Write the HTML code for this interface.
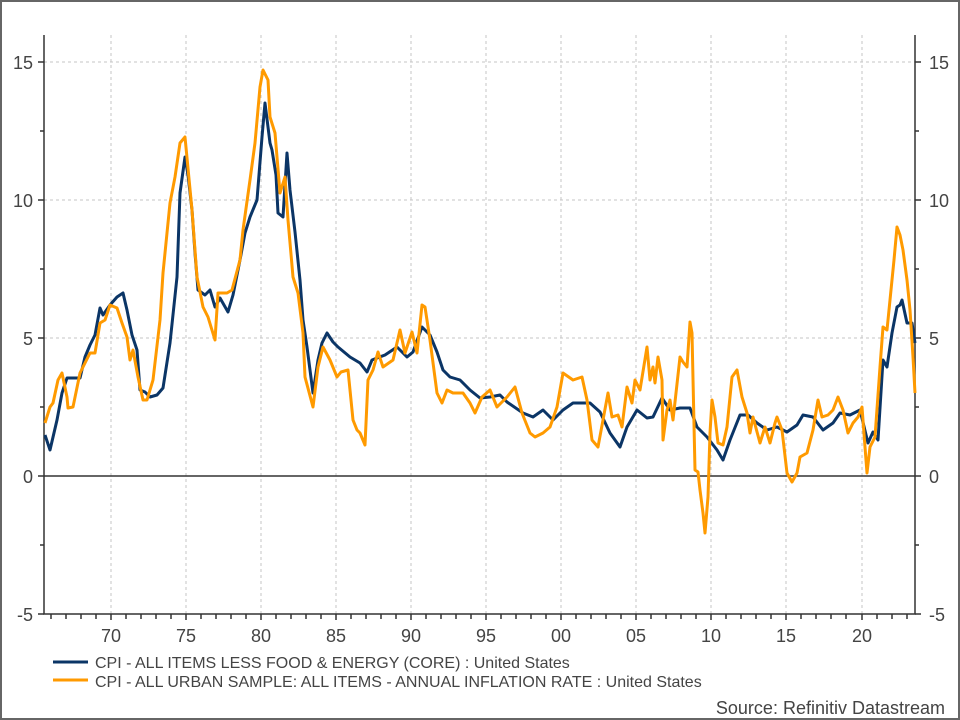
<!DOCTYPE html>
<html><head><meta charset="utf-8"><style>
html,body{margin:0;padding:0;background:#fff;}
svg{display:block;}
text{font-family:"Liberation Sans",Arial,sans-serif;}
</style></head><body>
<svg width="960" height="720" viewBox="0 0 960 720" xmlns="http://www.w3.org/2000/svg">
<rect x="1" y="1" width="958" height="718" fill="#fff" stroke="#666" stroke-width="2"/>
<g stroke="#c4c4c4" stroke-width="1" stroke-dasharray="3,3" fill="none">
<path d="M111 35V614M186 35V614M261 35V614M336 35V614M411 35V614M486 35V614M561 35V614M636 35V614M711 35V614M786 35V614M862 35V614"/>
<path d="M44 62H915M44 200H915M44 338H915"/>
</g>
<g stroke="#333" stroke-width="1.5" fill="none">
<path d="M44 35V614H915V35"/>
<path d="M44 476H915"/>
<path d="M38 62H44M40 131H44M38 200H44M40 269H44M38 338H44M40 407H44M38 476H44M40 545H44M38 614H44"/>
<path d="M915 62H921M915 131H919M915 200H921M915 269H919M915 338H921M915 407H919M915 476H921M915 545H919M915 614H921"/>
<path d="M51 614v5M66 614v5M81 614v5M96 614v5M111 614v6M126 614v5M141 614v5M156 614v5M171 614v5M186 614v6M201 614v5M216 614v5M231 614v5M246 614v5M261 614v6M276 614v5M291 614v5M306 614v5M321 614v5M336 614v6M351 614v5M366 614v5M381 614v5M396 614v5M411 614v6M426 614v5M441 614v5M456 614v5M471 614v5M486 614v6M501 614v5M516 614v5M531 614v5M546 614v5M561 614v6M576 614v5M591 614v5M606 614v5M621 614v5M636 614v6M651 614v5M666 614v5M681 614v5M696 614v5M711 614v6M726 614v5M741 614v5M756 614v5M771 614v5M786 614v6M801 614v5M816 614v5M831 614v5M846 614v5M862 614v6M877 614v5M892 614v5M907 614v5"/>
</g>
<g font-size="18" fill="#444" text-anchor="end">
<text x="33" y="69">15</text><text x="33" y="207">10</text><text x="33" y="345">5</text><text x="33" y="483">0</text><text x="33" y="621">-5</text>
</g>
<g font-size="18" fill="#444" text-anchor="start">
<text x="929" y="69">15</text><text x="929" y="207">10</text><text x="929" y="345">5</text><text x="929" y="483">0</text><text x="929" y="621">-5</text>
</g>
<g font-size="18" fill="#444" text-anchor="middle">
<text x="111" y="642">70</text><text x="186" y="642">75</text><text x="261" y="642">80</text><text x="336" y="642">85</text><text x="411" y="642">90</text><text x="486" y="642">95</text><text x="561" y="642">00</text><text x="636" y="642">05</text><text x="711" y="642">10</text><text x="786" y="642">15</text><text x="862" y="642">20</text>
</g>
<polyline fill="none" stroke="#0b3566" stroke-width="3" stroke-linejoin="round" points="45,435 50,450 57,420 62,393 67,378 75,378 80,378 85,357 90,345 95,335 100,308 103,315 110,305 117,297 123,293 127,310 132,335 137,350 140,390 145,392 150,397 157,395 163,388 170,343 177,277 180,193 185,157 188,175 192,210 195,253 198,290 205,295 210,290 215,307 220,298 228,312 233,295 240,260 245,233 250,217 257,200 262,137 265,103 270,143 272,150 276,175 278,213 283,217 287,153 290,190 295,232 300,280 303,320 307,347 313,393 318,360 322,343 327,333 333,342 338,347 350,357 360,363 367,372 372,360 385,355 397,347 407,357 413,352 422,327 430,335 437,352 443,370 450,377 460,380 470,390 480,398 490,397 500,395 507,402 523,413 533,417 543,410 553,420 563,410 573,403 583,403 590,403 600,412 610,433 620,447 627,427 637,410 647,418 653,417 662,398 670,410 680,408 690,408 697,427 707,437 717,450 723,460 730,440 740,415 748,415 757,423 767,430 777,427 787,432 797,425 803,415 813,417 823,430 833,423 840,413 850,415 860,410 868,443 873,432 878,440 883,360 887,367 892,333 897,307 900,305 902,300 907,323 912,323 915,343"/>
<polyline fill="none" stroke="#ff9a00" stroke-width="3" stroke-linejoin="round" points="45,423 50,407 53,403 58,380 62,373 67,397 68,408 73,407 80,373 90,353 95,353 100,323 105,320 110,305 117,308 122,323 127,337 130,360 133,350 138,377 143,400 147,400 153,380 160,320 163,273 170,203 175,177 180,143 185,137 192,210 197,277 203,307 208,317 215,340 218,293 227,293 232,290 240,260 243,230 250,180 255,143 260,87 263,70 268,80 270,117 275,133 280,193 285,177 288,220 293,277 298,293 303,333 305,377 313,407 318,367 323,347 330,360 337,377 341,372 348,370 353,420 357,430 360,433 365,445 368,380 373,370 378,352 383,367 393,360 400,330 405,353 412,332 417,353 422,305 425,307 430,340 437,393 442,403 447,390 453,393 463,393 470,403 475,413 482,397 490,390 497,407 507,397 515,387 522,413 530,433 535,437 543,433 550,427 557,407 563,373 573,380 582,377 587,400 592,440 598,447 603,420 608,393 612,417 618,415 622,427 627,387 632,403 635,380 640,390 647,347 650,380 653,367 655,383 658,357 662,380 663,440 667,410 670,400 673,420 680,357 683,362 687,367 690,322 692,333 695,470 698,472 700,490 703,513 705,533 708,497 710,433 712,400 715,417 718,443 723,445 727,427 732,377 737,370 742,397 747,413 750,433 753,417 760,443 765,427 770,443 775,423 777,417 782,430 787,473 792,482 797,473 800,457 807,453 813,430 818,400 822,417 828,415 833,410 838,397 843,410 848,433 853,423 858,417 862,407 865,447 867,473 870,447 875,437 880,367 883,327 887,330 890,300 894,260 897,227 900,235 903,250 907,280 910,310 913,357 915,393"/>
<line x1="53" y1="662" x2="88" y2="662" stroke="#0b3566" stroke-width="3"/>
<line x1="53" y1="680" x2="88" y2="680" stroke="#ff9a00" stroke-width="3"/>
<g font-size="16" fill="#444">
<text x="95" y="668">CPI - ALL ITEMS LESS FOOD &amp; ENERGY (CORE) : United States</text>
<text x="95" y="687">CPI - ALL URBAN SAMPLE: ALL ITEMS - ANNUAL INFLATION RATE : United States</text>
</g>
<text x="945" y="714" font-size="18" fill="#444" text-anchor="end">Source: Refinitiv Datastream</text>
</svg>
</body></html>
